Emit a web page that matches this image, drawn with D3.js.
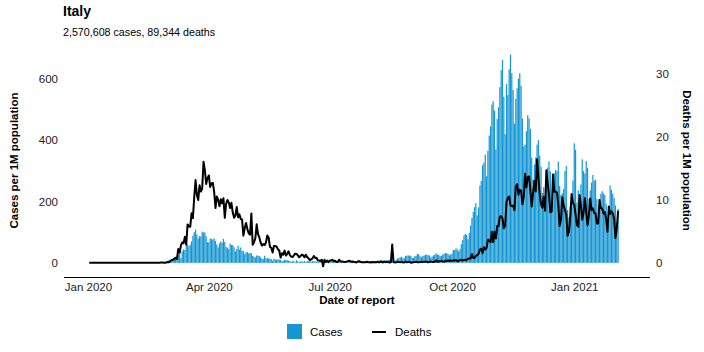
<!DOCTYPE html>
<html><head><meta charset="utf-8">
<script src="https://cdn.jsdelivr.net/npm/d3@7"></script>
<style>body{margin:0;background:#fff} svg{font-family:"Liberation Sans",Arial,Helvetica,sans-serif}</style>
</head><body><svg id="c" width="704" height="352"></svg>
<script>
// ---- data (per 1M population, daily, by date of report) ----
const startDate = "2020-01-02";
const titleText = "Italy";
const subtitleText = "2,570,608 cases, 89,344 deaths";
const casesTicks = [0, 200, 400, 600];
const deathsTicks = [0, 10, 20, 30];
const xTickLabels = ["Jan 2020", "Apr 2020", "Jul 2020", "Oct 2020", "Jan 2021"];

const casesJan20 = [0,0,0,0,0,0,0,0,0,0,0,0,0,0,0,0,0,0,0,0,0,0,0,0,0,0,0,0,0,0,0];
const casesFeb20 = [0,0,0,0,0,0,0,0,0,0,0,0,0,0,0,0,0,0,0,0,0.3,1.0,1.3,1.3,1.5,1.3,4.1,3.9,4.0];
const casesMar20 = [9.4,5.7,7.7,9.7,12.7,12.9,20.7,24.7,29.8,16.2,38.3,43.9,42.2,57.9,59.5,53.6,58.4,69.7,88.2,99.2,108.6,92.1,79.3,87.0,86.3,101.9,98.7,99.0,86.4,67.1,67.1];
const casesApr20 = [79.2,77.3,76.0,79.6,71.5,59.6,50.3,63.6,69.6,65.5,77.8,67.8,52.2,49.2,44.2,62.7,57.9,57.8,50.5,37.4,45.2,55.8,43.8,50.0,39.0,38.5,28.8,34.6,34.6,31.0];
const casesMay20 = [32.6,31.5,23.0,20.2,17.8,23.9,23.2,22.0,17.9,13.3,12.3,23.2,14.7,16.4,13.1,14.5,11.2,7.5,13.5,11.0,10.6,10.8,11.1,8.8,5.0,6.6,9.7,9.8,8.5,6.9,5.9];
const casesJun20 = [2.9,5.3,5.3,2.9,8.6,4.5,3.3,4.6,4.7,3.3,6.3,2.7,5.7,5.6,5.0,3.5,5.5,5.5,4.2,4.3,3.7,3.6,2.0,3.1,4.9,4.3,2.9,2.9,2.1,2.4];
const casesJul20 = [3.0,3.3,3.7,3.9,3.2,3.4,2.3,3.2,3.8,4.6,3.1,3.9,2.8,1.9,2.7,3.8,3.9,4.1,3.6,3.1,2.1,4.6,5.1,4.2,4.6,4.2,2.8,3.0,3.5,4.8,6.3];
const casesAug20 = [4.9,4.0,2.6,3.1,6.4,6.7,9.1,5.7,7.7,4.3,6.8,8.0,9.1,9.5,10.4,7.9,5.3,6.7,10.6,14.0,15.7,17.7,20.0,14.5,15.8,22.6,23.4,24.2,23.9,22.6,16.5];
const casesSep20 = [16.2,22.0,23.1,28.7,28.1,21.5,18.4,22.7,23.8,26.5,26.8,24.9,24.2,16.7,20.4,24.1,26.3,31.6,27.1,26.3,22.4,23.1,27.2,29.6,31.7,31.0,29.3,24.8,27.3,30.7];
const casesOct20 = [42.2,41.4,47.1,42.7,37.4,44.4,60.9,73.9,89.0,94.8,90.4,76.5,97.8,121.5,145.9,165.8,181.0,193.9,154.7,180.2,251.8,266.4,317.1,325.4,352.4,281.8,364.4,414.0,444.5,515.0,526.1];
const casesNov20 = [495.5,368.7,467.9,506.1,571.7,626.4,659.6,540.4,418.7,581.5,546.1,629.2,677.6,617.2,562.9,453.2,533.3,568.0,599.3,617.0,576.0,469.5,379.9,384.9,428.3,480.5,469.7,436.1,342.1,271.3];
const casesDec20 = [320.6,343.1,384.8,399.3,348.8,312.9,227.3,245.9,211.3,281.6,310.2,329.7,297.2,199.3,245.9,291.1,302.1,298.1,329.7,250.2,220.6,226.4,240.6,298.9,315.4,172.4,147.7,185.7,186.0,268.4,388.9];
const casesJan21 = [368.0,196.0,236.0,186.4,254.8,336.8,298.5,290.5,331.0,308.6,207.6,236.0,261.3,285.7,267.5,270.2,207.8,146.2,173.9,224.8,233.2,225.9,220.9,192.7,141.8,175.5,251.9,238.1,224.9,210.7,186.4];
const casesFeb21 = [131.3,176.1];

const deathsJan20 = [0,0,0,0,0,0,0,0,0,0,0,0,0,0,0,0,0,0,0,0,0,0,0,0,0,0,0,0,0,0,0];
const deathsFeb20 = [0,0,0,0,0,0,0,0,0,0,0,0,0,0,0,0,0,0,0,0,0.02,0.02,0.03,0.07,0.05,0.03,0.03,0.07,0.13];
const deathsMar20 = [0.08,0.30,0.45,0.46,0.68,0.81,0.60,2.20,1.61,2.78,3.25,3.13,4.14,2.90,6.10,5.78,5.72,7.87,7.07,10.39,13.14,10.79,9.96,12.31,11.32,11.80,16.05,14.73,12.52,13.45,13.87];
const deathsApr20 = [12.04,12.59,12.69,11.28,8.70,10.54,10.01,8.98,10.11,9.44,10.25,7.14,9.38,9.97,9.58,8.70,9.53,7.99,7.17,7.52,8.85,7.24,7.69,6.96,6.88,4.31,5.52,6.33,5.35,4.72];
const deathsMay20 = [4.46,7.85,2.88,3.23,3.91,6.11,4.54,4.03,3.21,2.73,2.97,2.85,3.23,4.34,4.01,2.53,2.40,1.64,2.68,2.67,2.58,2.15,1.97,0.83,1.52,1.29,1.94,1.16,1.44,1.84,1.24];
const deathsJun20 = [0.99,0.91,1.18,1.46,1.41,1.19,0.88,1.08,1.31,1.18,0.88,1.29,0.91,0.73,0.43,0.56,0.71,1.09,0.78,0.81,0.40,0.38,0.30,0.50,-0.55,0.50,0.13,0.36,0.10,0.38];
const deathsJul20 = [0.35,0.50,0.25,0.35,0.12,0.13,0.50,0.25,0.20,0.20,0.12,0.15,0.22,0.28,0.33,0.18,0.22,0.18,0.15,0.05,0.22,0.25,0.17,0.08,0.08,0.08,0.10,0.18,0.08,0.10,0.05];
const deathsAug20 = [0.13,0.08,0.13,0.08,0.17,0.10,0.10,0.22,0.07,0.22,0.10,0.17,0.12,0.05,0.10,2.90,0.12,0.07,0.08,0.12,0.15,0.08,0.15,0.07,0.07,0.22,0.08,0.15,0.15,0.02,0.07];
const deathsSep20 = [0.10,0.13,0.17,0.10,0.10,0.12,0.12,0.17,0.17,0.17,0.18,0.10,0.12,0.23,0.15,0.15,0.17,0.40,0.17,0.25,0.23,0.33,0.23,0.17,0.33,0.28,0.40,0.28,0.40,0.31];
const deathsOct20 = [0.38,0.36,0.45,0.27,0.30,0.46,0.51,0.36,0.46,0.48,0.43,0.65,0.68,0.71,1.38,0.78,0.78,1.14,1.21,1.47,2.10,2.25,1.51,2.50,2.12,2.34,3.66,3.60,3.30,4.92,3.30];
const deathsNov20 = [4.92,3.86,5.85,5.83,7.37,7.39,7.04,5.48,5.90,9.61,10.32,10.54,9.11,9.01,9.05,8.35,12.11,12.48,10.82,11.58,11.46,9.31,10.44,14.13,11.96,13.62,13.70,11.37,8.96,11.13];
const deathsDec20 = [13.01,11.33,16.45,13.49,10.97,9.34,8.75,10.50,8.27,14.70,12.61,10.75,8.02,8.13,14.02,11.27,11.32,11.17,9.16,5.83,6.88,10.40,9.16,8.37,7.60,4.32,5.05,7.37,10.92,9.53,9.19];
const deathsJan21 = [7.65,6.03,5.75,10.75,9.08,6.86,8.00,10.27,8.00,5.98,7.42,10.21,8.40,8.65,7.90,7.87,6.25,6.25,9.99,8.68,8.63,7.82,8.08,6.96,4.95,8.96,7.74,8.15,7.90,6.97,3.93];
const deathsFeb21 = [5.45,8.27];

// ---- build ----
const cases = [].concat(casesJan20,casesFeb20,casesMar20,casesApr20,casesMay20,casesJun20,casesJul20,casesAug20,casesSep20,casesOct20,casesNov20,casesDec20,casesJan21,casesFeb21);
const deaths = [].concat(deathsJan20,deathsFeb20,deathsMar20,deathsApr20,deathsMay20,deathsJun20,deathsJul20,deathsAug20,deathsSep20,deathsOct20,deathsNov20,deathsDec20,deathsJan21,deathsFeb21);
const start = d3.utcParse("%Y-%m-%d")(startDate);
const data = cases.map((c,i)=>({date:d3.utcDay.offset(start,i), cases:c, deaths:deaths[i]}));

const M = {left:64, right:650, top:44, bottom:277};
const BLUE = "#1696d2";
const TXT = "#000";

const lastDate = data[data.length-1].date;
const x = d3.scaleUtc().domain([d3.utcDay.offset(start,-19), d3.utcDay.offset(lastDate,24)]).range([M.left, M.right]);
const y = d3.scaleLinear().domain([-46, 712]).range([M.bottom, M.top]);
const ratio = 20.5;
const y2 = d3.scaleLinear().domain([-46/ratio, 712/ratio]).range([M.bottom, M.top]);

const svg = d3.select("#c");
const dayW = x(d3.utcDay.offset(start,1)) - x(start);
const bw = dayW*0.9;

svg.append("g").selectAll("rect").data(data.filter(d=>d.cases>0)).join("rect")
  .attr("x", d=>x(d.date)-bw/2).attr("width", bw)
  .attr("y", d=>y(d.cases)).attr("height", d=>y(0)-y(d.cases))
  .attr("fill", BLUE);

svg.append("path").datum(data)
  .attr("d", d3.line().x(d=>x(d.date)).y(d=>y2(d.deaths)))
  .attr("fill","none").attr("stroke","#000").attr("stroke-width",2).attr("stroke-linejoin","round");

// axes
const gl = svg.append("g").attr("transform",`translate(${M.left},0)`)
  .call(d3.axisLeft(y).tickValues(casesTicks).tickSize(0).tickPadding(6));
gl.select(".domain").remove();
gl.selectAll("text").attr("font-size",11.5).attr("fill","#222").style("font-family","inherit");

const gr = svg.append("g").attr("transform",`translate(${M.right},0)`)
  .call(d3.axisRight(y2).tickValues(deathsTicks).tickSize(0).tickPadding(6));
gr.select(".domain").remove();
gr.selectAll("text").attr("font-size",11.5).attr("fill","#222").style("font-family","inherit");

const xTicks = xTickLabels.map(s=>d3.utcParse("%b %Y")(s));
const gx = svg.append("g").attr("transform",`translate(0,${M.bottom})`)
  .call(d3.axisBottom(x).tickValues(xTicks).tickSize(0).tickPadding(6).tickFormat((d,i)=>xTickLabels[i]));
gx.select(".domain").attr("stroke","#000").attr("stroke-width",1).attr("d",`M${M.left},0.5H${M.right}`);
gx.selectAll("text").attr("font-size",11.5).attr("fill","#222").style("font-family","inherit");

// titles
svg.append("text").attr("x",63).attr("y",16).attr("font-size",14).attr("font-weight","bold").attr("fill",TXT).text(titleText);
svg.append("text").attr("x",63).attr("y",36).attr("font-size",10.7).attr("fill",TXT).text(subtitleText);
svg.append("text").attr("x",357).attr("y",304).attr("text-anchor","middle").attr("font-size",11.5).attr("font-weight","bold").attr("fill",TXT).text("Date of report");
svg.append("text").attr("transform",`translate(17.5,${(M.top+M.bottom)/2}) rotate(-90)`).attr("text-anchor","middle").attr("font-size",11.5).attr("font-weight","bold").attr("fill",TXT).text("Cases per 1M population");
svg.append("text").attr("transform",`translate(683,${(M.top+M.bottom)/2}) rotate(90)`).attr("text-anchor","middle").attr("font-size",11.5).attr("font-weight","bold").attr("fill",TXT).text("Deaths per 1M population");

// legend
const lg = svg.append("g");
lg.append("rect").attr("x",287).attr("y",324).attr("width",15).attr("height",15).attr("fill",BLUE);
lg.append("text").attr("x",310).attr("y",336).attr("font-size",11.5).attr("fill",TXT).text("Cases");
lg.append("line").attr("x1",372).attr("x2",386).attr("y1",332).attr("y2",332).attr("stroke","#000").attr("stroke-width",2);
lg.append("text").attr("x",395).attr("y",336).attr("font-size",11.5).attr("fill",TXT).text("Deaths");
</script></body></html>
